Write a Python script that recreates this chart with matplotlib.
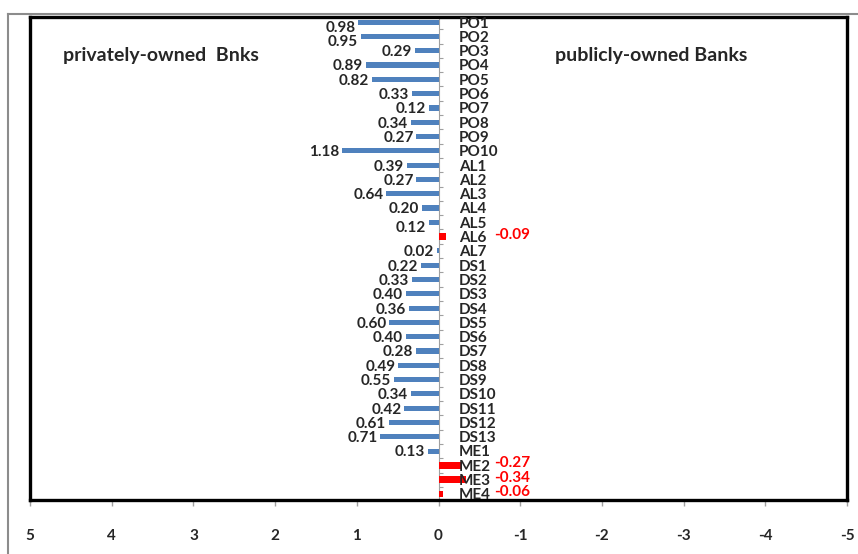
import matplotlib
matplotlib.use('Agg')
import matplotlib.pyplot as plt
from matplotlib.lines import Line2D
import numpy as np

plt.rcParams['font.family'] = ['Lato', 'DejaVu Sans']
plt.rcParams['axes.unicode_minus'] = False

banks = ['PO1', 'PO2', 'PO3', 'PO4', 'PO5', 'PO6', 'PO7', 'PO8', 'PO9', 'PO10',
         'AL1', 'AL2', 'AL3', 'AL4', 'AL5', 'AL6', 'AL7',
         'DS1', 'DS2', 'DS3', 'DS4', 'DS5', 'DS6', 'DS7', 'DS8', 'DS9', 'DS10',
         'DS11', 'DS12', 'DS13',
         'ME1', 'ME2', 'ME3', 'ME4']
values = [0.98, 0.95, 0.29, 0.89, 0.82, 0.33, 0.12, 0.34, 0.27, 1.18,
          0.39, 0.27, 0.64, 0.20, 0.12, -0.09, 0.02,
          0.22, 0.33, 0.40, 0.36, 0.60, 0.40, 0.28, 0.49, 0.55, 0.34,
          0.42, 0.61, 0.71,
          0.13, -0.27, -0.34, -0.06]
xticks = [5, 4, 3, 2, 1, 0, -1, -2, -3, -4, -5]

# a few excel labels sit a little lower than their bar
label_dy = {'PO1': -3.5, 'PO2': -3, 'AL5': -3}

blue = '#4F81BD'
red = '#FF0000'
txt = '#262626'

fig = plt.figure(figsize=(8.58, 5.54), dpi=100)
ax = fig.add_axes([30 / 858, 54 / 554, 817 / 858, 483 / 554])

y = np.arange(len(banks))
vals = np.array(values)
colors = [blue if v >= 0 else red for v in vals]
heights = [0.36 if v >= 0 else 0.45 for v in vals]
ax.barh(y, vals, height=heights, color=colors, zorder=3)

ax.set_xlim(5, -5)
ax.set_ylim(len(banks) - 1 + 0.42, -0.36)

# centre axis with small tick marks between categories
ax.axvline(0, color='#A0A0A0', lw=0.8, zorder=2)
ax.hlines(np.arange(len(banks)) + 0.5, 0, -0.06, color='#A0A0A0', lw=0.8, zorder=2)

for i, (name, v) in enumerate(zip(banks, vals)):
    ax.annotate(name, xy=(0, i), xytext=(14.5, -1), textcoords='offset points',
                ha='left', va='center', fontsize=11, fontweight='bold', color=txt, zorder=4)
    if v >= 0:
        ax.annotate(f'{v:.2f}', xy=(v, i), xytext=(-2, label_dy.get(name, 0) - 1),
                    textcoords='offset points', ha='right', va='center',
                    fontsize=11, fontweight='bold', color=txt, zorder=4)
    else:
        ax.annotate(f'{v:.2f}', xy=(0, i), xytext=(40, 1.5), textcoords='offset points',
                    ha='left', va='center', fontsize=11, fontweight='bold', color=red, zorder=4)

ax.text(0.04, 0.92, 'privately-owned  Bnks', transform=ax.transAxes, ha='left', va='center',
        fontsize=14, fontweight='bold', color=txt)
ax.text(0.642, 0.92, 'publicly-owned Banks', transform=ax.transAxes, ha='left', va='center',
        fontsize=14, fontweight='bold', color=txt)

ax.set_xticks(xticks)
ax.set_xticklabels([str(t) for t in xticks])
ax.set_yticks([])
ax.tick_params(axis='x', direction='out', length=4, width=1, color='#A0A0A0',
               pad=17, labelsize=11, labelcolor=txt)
for lab in ax.get_xticklabels():
    lab.set_fontweight('bold')
for s in ax.spines.values():
    s.set_linewidth(2.4)
    s.set_color('black')

# outer chart-area frame (cut off at right and bottom)
fig.add_artist(Line2D([8 / 858, 8 / 858], [0, 1 - 14 / 554], color='#8C8C8C', lw=1.5))
fig.add_artist(Line2D([8 / 858, 1], [1 - 14 / 554, 1 - 14 / 554], color='#8C8C8C', lw=1.5))

fig.savefig('out.png', dpi=100)
